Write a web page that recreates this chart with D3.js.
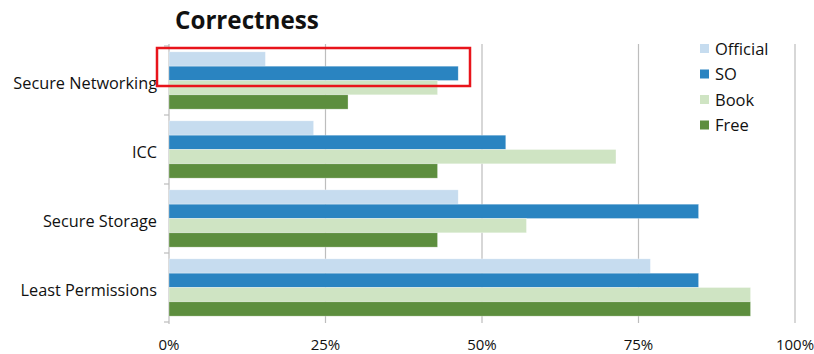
<!DOCTYPE html>
<html>
<head>
<meta charset="utf-8">
<script src="https://cdn.jsdelivr.net/npm/d3@7"></script>
<style>
  body { margin: 0; background: #fff; }
  svg text { font-family: "Open Sans", "Liberation Sans", sans-serif; fill: #111; }
</style>
</head>
<body>
<div id="chart"></div>
<script>
const categories = ["Secure Networking", "ICC", "Secure Storage", "Least Permissions"];
const seriesNames = ["Official", "SO", "Book", "Free"];
const official = [15.4, 23.1, 46.2, 76.9];
const so = [46.2, 53.8, 84.6, 84.6];
const book = [42.9, 71.4, 57.1, 92.9];
const free = [28.6, 42.9, 42.9, 92.9];
const xTicks = [0, 25, 50, 75, 100];
const colors = ["#c6dcef", "#2a84c1", "#cfe4c3", "#5d8e3e"];

const values = [official, so, book, free];
const data = categories.map((c, i) => ({ cat: c, vals: seriesNames.map((s, j) => ({ s, v: values[j][i] })) }));

const width = 814, height = 354;
const margin = { top: 46, right: 19, bottom: 32, left: 169 };
const w = width - margin.left - margin.right,
      h = height - margin.top - margin.bottom;

const svg = d3.select("#chart").append("svg")
  .attr("width", width)
  .attr("height", height);

const g = svg.append("g").attr("transform", `translate(${margin.left},${margin.top})`);

const x = d3.scaleLinear().domain([0, 100]).range([0, w]);
const y0 = d3.scaleBand().domain(categories).range([0, h]).paddingInner(0.17).paddingOuter(0.085);
const y1 = d3.scaleBand().domain(seriesNames).range([0, y0.bandwidth()]);
const color = d3.scaleOrdinal(seriesNames, colors);

// gridlines
g.selectAll(".grid").data(xTicks.slice(1)).enter().append("line")
  .attr("x1", d => x(d)).attr("x2", d => x(d))
  .attr("y1", -2).attr("y2", h + 1)
  .attr("stroke", "#bdbdbd").attr("stroke-width", 1.2);

// left axis line with band ticks
g.append("line").attr("x1", 0).attr("x2", 0).attr("y1", -2).attr("y2", h + 2)
  .attr("stroke", "#bdbdbd").attr("stroke-width", 1.2);
const step = h / categories.length;
g.selectAll(".ytick").data(d3.range(categories.length + 1)).enter().append("line")
  .attr("x1", -5).attr("x2", 0)
  .attr("y1", d => d * step).attr("y2", d => d * step)
  .attr("stroke", "#bdbdbd").attr("stroke-width", 1.2);

// bars
const groups = g.selectAll(".grp").data(data).enter().append("g")
  .attr("transform", d => `translate(0,${y0(d.cat)})`);
groups.selectAll("rect").data(d => d.vals).enter().append("rect")
  .attr("x", 0)
  .attr("y", d => y1(d.s))
  .attr("width", d => x(d.v))
  .attr("height", y1.bandwidth())
  .attr("fill", d => color(d.s))
  .attr("stroke", "#ffffff").attr("stroke-opacity", 0.5).attr("stroke-width", 0.6);

// category labels
g.selectAll(".clab").data(categories).enter().append("text")
  .attr("x", -12)
  .attr("y", d => y0(d) + y0.bandwidth() / 2 + 2.5)
  .attr("dy", "0.35em")
  .attr("text-anchor", "end")
  .style("font-size", "16.3px")
  .text(d => d);

// x tick labels
g.selectAll(".xlab").data(xTicks).enter().append("text")
  .attr("x", d => x(d))
  .attr("y", h + 28)
  .attr("text-anchor", "middle")
  .style("font-size", "15px")
  .text(d => d + "%");

// title
svg.append("text")
  .attr("x", 175).attr("y", 29)
  .style("font-size", "24.2px").style("font-weight", "bold")
  .text("Correctness");

// legend
const legend = svg.append("g").attr("transform", "translate(700,41)");
seriesNames.forEach((s, i) => {
  const row = legend.append("g").attr("transform", `translate(0,${i * 25.5})`);
  row.append("rect").attr("x", 0).attr("y", 3).attr("width", 9).attr("height", 9).attr("fill", color(s));
  row.append("text").attr("x", 15).attr("y", 8).attr("dy", "0.35em")
    .style("font-size", "16.5px").text(s);
});

// highlight box
svg.append("rect")
  .attr("x", 157).attr("y", 48).attr("width", 313).attr("height", 38)
  .attr("fill", "none").attr("stroke", "#e8141b").attr("stroke-width", 2.5);
</script>
</body>
</html>
